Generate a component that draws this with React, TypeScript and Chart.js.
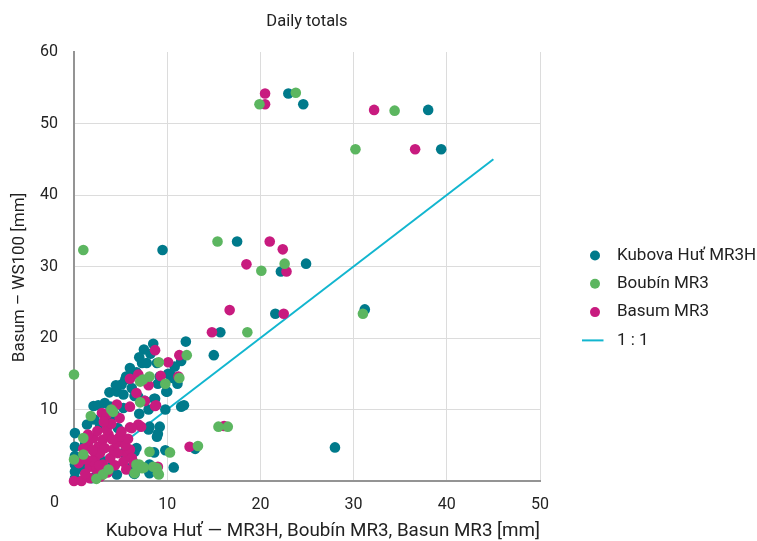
import React, { useEffect, useRef } from 'react';
import { Chart, registerables } from 'chart.js';

Chart.register(...registerables);

const FONT = 'Roboto';
const TEXT = '#222222';

const chartTitle = 'Daily totals';
const xTitle = 'Kubova Huť — MR3H, Boubín MR3, Basun MR3 [mm]';
const yTitle = 'Basum – WS100 [mm]';

const xRange = [0, 50];
const yRange = [0, 60];
const tickStep = 10;

const seriesNames = ['Kubova Huť MR3H', 'Boubín MR3', 'Basum MR3', '1 : 1'];
const seriesColors = ['#007a8b', '#5cb660', '#c81b7f', '#12b6cf'];

const kubovaHut: [number, number][] = [
  [23.0, 54.2], [24.6, 52.7], [38.0, 51.9], [39.4, 46.4], [9.5, 32.3], [17.5, 33.5], [22.2, 29.3],
  [24.9, 30.4], [21.6, 23.4], [31.2, 24.0], [15.7, 20.8], [12.0, 19.5], [15.0, 17.6], [8.5, 19.2],
  [11.5, 16.8], [28.0, 4.7], [13.0, 4.5], [7.5, 18.4], [7.3, 16.5], [7.8, 16.5], [8.9, 16.5],
  [10.1, 15.0], [10.5, 14.6], [11.1, 13.6], [10.0, 12.5], [8.6, 11.5], [9.8, 10.0], [11.5, 10.4],
  [11.8, 10.6], [9.2, 7.6], [9.0, 6.6], [6.4, 14.9], [6.7, 15.2], [5.5, 14.2], [5.1, 13.5],
  [5.6, 14.6], [9.2, 14.6], [10.3, 14.9], [10.6, 14.4], [9.9, 12.5], [6.5, 11.9], [8.7, 11.5],
  [8.0, 10.0], [6.9, 11.8], [7.6, 11.2], [3.8, 12.4], [4.6, 12.5], [5.3, 12.1], [2.1, 10.5],
  [2.6, 10.6], [3.3, 10.9], [3.9, 10.4], [5.3, 10.2], [1.4, 7.9], [2.8, 7.7], [3.9, 8.1],
  [4.7, 7.4], [8.1, 7.6], [8.0, 7.2], [8.9, 6.2], [6.7, 4.6], [6.5, 4.1], [9.8, 4.3], [8.6, 4.0],
  [5.3, 3.9], [6.4, 1.1], [8.0, 1.6], [8.1, 2.3], [10.7, 1.9], [6.5, 1.0], [8.1, 1.1], [6.0, 1.8],
  [4.6, 0.9], [3.9, 2.0], [2.5, 1.9], [1.9, 0.4], [0.1, 6.7], [0.1, 4.8], [0.1, 1.3], [0.1, 0.4],
  [0.1, 3.5], [0.1, 2.3], [1.2, 5.2], [2.2, 8.6], [4.4, 9.2], [7.0, 9.4], [3.0, 2.8], [5.0, 5.6],
  [1.0, 1.8], [6.0, 15.8], [7.0, 17.3], [8.2, 17.8], [4.5, 13.4], [6.2, 13.0], [9.0, 13.6],
  [10.8, 16.0],
];

const boubin: [number, number][] = [
  [23.8, 54.3], [19.9, 52.7], [34.4, 51.8], [30.2, 46.4], [15.4, 33.5], [20.1, 29.4], [22.6, 30.4],
  [18.6, 20.8], [31.0, 23.4], [12.1, 17.6], [9.1, 16.6], [11.3, 14.4], [9.8, 13.6], [15.5, 7.6],
  [16.5, 7.6], [13.3, 4.9], [1.0, 32.3], [0.0, 14.9], [7.1, 13.9], [7.4, 14.2], [8.1, 14.6],
  [7.1, 11.0], [1.8, 9.1], [4.0, 10.0], [4.2, 9.7], [1.0, 6.0], [1.0, 3.7], [0.0, 3.0], [8.1, 4.1],
  [10.3, 4.0], [7.0, 2.3], [7.5, 1.9], [8.5, 2.0], [8.9, 1.8], [9.1, 0.9], [3.1, 0.9], [3.7, 1.6],
  [2.4, 0.3], [6.5, 1.1], [6.7, 2.3], [7.3, 1.8], [9.0, 1.1],
];

const basum: [number, number][] = [
  [20.5, 54.2], [20.5, 52.7], [32.2, 51.9], [36.6, 46.4], [21.0, 33.5], [22.4, 32.4], [18.5, 30.3],
  [22.8, 29.3], [16.7, 23.9], [22.5, 23.4], [14.8, 20.8], [11.3, 17.6], [8.7, 18.3], [10.1, 16.6],
  [9.3, 14.7], [8.8, 10.6], [16.1, 7.7], [12.4, 4.8], [8.0, 13.4], [6.0, 14.3], [6.9, 14.9],
  [11.2, 14.6], [6.7, 12.3], [3.0, 9.5], [3.5, 9.3], [4.9, 8.8], [6.0, 10.4], [6.0, 7.5], [7.2, 7.6],
  [5.6, 3.9], [4.6, 10.7], [6.9, 7.9], [7.6, 11.2], [8.7, 10.5], [6.2, 7.4], [9.0, 2.0], [1.5, 5.3],
  [2.1, 6.0], [2.6, 4.8], [3.1, 5.8], [3.7, 6.5], [2.3, 3.4], [2.8, 3.9], [3.3, 4.6], [1.7, 2.0],
  [2.4, 1.6], [3.1, 2.3], [3.9, 3.2], [4.2, 4.4], [4.6, 5.3], [4.9, 6.2], [5.1, 6.9], [4.7, 3.9],
  [5.3, 2.7], [5.6, 1.6], [1.7, 0.4], [2.8, 0.6], [0.0, 0.0], [0.8, 0.0], [6.0, 4.4], [5.5, 5.0],
  [6.2, 3.2], [6.4, 2.6], [1.2, 1.0], [2.0, 2.8], [3.5, 7.2], [4.0, 8.0], [1.0, 4.5], [0.5, 2.5],
  [1.3, 3.0], [2.0, 4.3], [2.7, 2.2], [3.6, 1.2], [4.4, 2.2], [4.1, 5.8], [2.5, 7.0], [3.2, 8.3],
  [5.8, 5.9], [1.5, 6.5],
];

const oneToOne: [number, number][] = [[3, 3], [45, 45]];

const toPoints = (arr: [number, number][]) => arr.map(([x, y]) => ({ x, y }));

const extrasPlugin = {
  id: 'extras',
  afterDraw(chart: any) {
    const { ctx, chartArea: ca } = chart;
    // y-axis title
    ctx.save();
    ctx.font = `17px ${FONT}`;
    ctx.fillStyle = TEXT;
    ctx.textAlign = 'center';
    ctx.textBaseline = 'middle';
    ctx.translate(19.5, (ca.top + ca.bottom) / 2 + 11);
    ctx.rotate(-Math.PI / 2);
    ctx.fillText(yTitle, 0, 0);
    ctx.restore();

    // shared corner zero
    ctx.save();
    ctx.font = `16px ${FONT}`;
    ctx.fillStyle = TEXT;
    ctx.textAlign = 'right';
    ctx.textBaseline = 'middle';
    ctx.fillText(String(xRange[0]), ca.left - 15, ca.bottom + 22);
    ctx.restore();

    // legend
    ctx.save();
    ctx.font = `17px ${FONT}`;
    ctx.textAlign = 'left';
    ctx.textBaseline = 'middle';
    chart.data.datasets.forEach((ds: any, i: number) => {
      const cy = ca.top + 203.5 + i * 28.3;
      const cx = ca.right + 55;
      if (ds.showLine) {
        ctx.strokeStyle = ds.borderColor;
        ctx.lineWidth = 2;
        ctx.beginPath();
        ctx.moveTo(cx - 13, cy);
        ctx.lineTo(cx + 8.5, cy);
        ctx.stroke();
      } else {
        ctx.fillStyle = ds.backgroundColor;
        ctx.beginPath();
        ctx.arc(cx, cy, 5, 0, Math.PI * 2);
        ctx.fill();
      }
      ctx.fillStyle = TEXT;
      ctx.fillText(ds.label, ca.right + 77, cy);
    });
    ctx.restore();
  },
};

export default function App() {
  const ref = useRef<HTMLCanvasElement | null>(null);

  useEffect(() => {
    if (!ref.current) return;
    const scatterDs = (i: number, data: [number, number][], order: number) => ({
      label: seriesNames[i],
      data: toPoints(data),
      backgroundColor: seriesColors[i],
      borderColor: seriesColors[i],
      borderWidth: 0,
      pointRadius: 5.3,
      pointHoverRadius: 5.3,
      order,
      clip: false as any,
    });
    const chart = new Chart(ref.current, {
      type: 'scatter',
      data: {
        datasets: [
          scatterDs(0, kubovaHut, 2),
          scatterDs(1, boubin, 0),
          scatterDs(2, basum, 1),
          {
            label: seriesNames[3],
            data: toPoints(oneToOne),
            showLine: true,
            borderColor: seriesColors[3],
            backgroundColor: seriesColors[3],
            borderWidth: 2,
            pointRadius: 0,
            order: 3,
          } as any,
        ],
      },
      options: {
        animation: false,
        responsive: false,
        layout: { padding: { left: 0, right: 217, top: 0, bottom: 0 } },
        plugins: {
          legend: { display: false },
          tooltip: { enabled: false },
          title: {
            display: true,
            text: chartTitle,
            fullSize: false,
            color: TEXT,
            font: { family: FONT, size: 16.5, weight: 'normal' },
            padding: { top: 12, bottom: 20.2 },
          },
        },
        scales: {
          x: {
            type: 'linear',
            min: xRange[0],
            max: xRange[1],
            afterFit: (s: any) => { s.height = 60; },
            ticks: {
              stepSize: tickStep,
              color: TEXT,
              font: { family: FONT, size: 16 },
              padding: 14,
              callback: (v: any) => (v === xRange[0] ? '' : String(v)),
            },
            grid: { color: '#dcdcdc', lineWidth: 1, drawTicks: false },
            border: { color: '#949494', width: 2 },
            title: {
              display: true,
              text: xTitle,
              align: 'end',
              color: TEXT,
              font: { family: FONT, size: 18.8, lineHeight: 1 },
              padding: { top: 0, bottom: 0 },
            },
          },
          y: {
            type: 'linear',
            min: yRange[0],
            max: yRange[1],
            afterFit: (s: any) => { s.width = 74; },
            ticks: {
              stepSize: tickStep,
              color: TEXT,
              font: { family: FONT, size: 16 },
              padding: 16,
              callback: (v: any) => (v === yRange[0] ? '' : String(v)),
            },
            grid: {
              color: (c: any) => (c.tick && c.tick.value === yRange[1] ? 'rgba(0,0,0,0)' : '#dcdcdc'),
              lineWidth: 1,
              drawTicks: false,
            },
            border: { color: '#949494', width: 2 },
          },
        },
      } as any,
      plugins: [extrasPlugin],
    });
    return () => chart.destroy();
  }, []);

  return (
    <div style={{ position: 'absolute', left: 0, top: 0, width: 757, height: 541, background: '#fff' }}>
      <canvas ref={ref} width={757} height={541} style={{ display: 'block' }} />
    </div>
  );
}
